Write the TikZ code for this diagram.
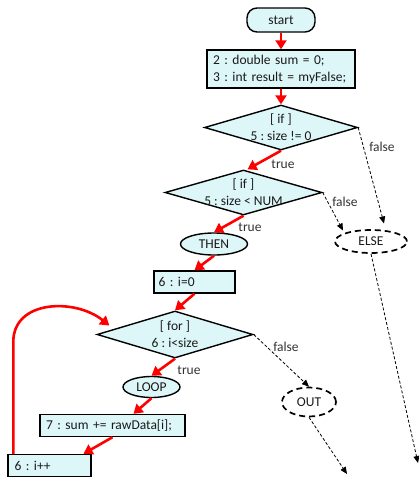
\documentclass[tikz,border=0pt]{standalone}
\usepackage{fontspec}
\setmainfont{Carlito}
\usetikzlibrary{shapes.geometric,arrows.meta,calc}
\definecolor{fillc}{HTML}{DDF6F8}
\definecolor{txtc}{HTML}{1A1A1A}
\frenchspacing
\begin{document}
\begin{tikzpicture}[x=1pt,y=-1pt,
  every node/.style={font=\fontsize{13.5}{17}\selectfont, text=txtc},
  boxn/.style={draw=black, line width=1.4pt, fill=fillc, inner sep=0pt, minimum height=22pt},
  termn/.style={draw=black, line width=1.4pt, fill=fillc, rounded corners=10pt, inner sep=0pt},
  ovaln/.style={ellipse, draw=black, line width=1.4pt, fill=fillc, inner sep=0pt},
  dovaln/.style={ellipse, draw=black, line width=1.7pt, dash pattern=on 6pt off 4pt, inner sep=0pt},
  decn/.style={diamond, draw=black, line width=1.4pt, fill=fillc, inner sep=0pt, aspect=3},
  redarr/.style={draw=red, line width=2.6pt, -{Triangle[width=11pt,length=9pt]}},
  dasharr/.style={draw=black, line width=0.8pt, dash pattern=on 3pt off 2pt, -{Triangle[width=6pt,length=7pt]}},
  lbl/.style={inner sep=0pt, text=black!80}
]
\useasboundingbox (0,0) rectangle (419,477);

% nodes
\node[termn, minimum width=68pt, minimum height=24pt] (start) at (281,20) {start};
\node[boxn, minimum width=148pt, minimum height=38pt, text width=136pt, align=left] (b1) at (281,69)
  {2 : double sum = 0;\\3 : int result = myFalse;};
\node[decn, minimum width=153pt, minimum height=45pt] (d1) at (281,127.5) {};
\node[inner sep=0pt, align=center] (t1) at (d1.center) {[ if ]\\5 : size != 0};
\node[decn, minimum width=157pt, minimum height=45pt] (d2) at (243.5,192.5) {};
\node[inner sep=0pt, align=center] (t2) at (d2.center) {[ if ]\\5 : size < NUM};
\node[ovaln, minimum width=67pt, minimum height=22pt] (then) at (214,244) {THEN};
\node[boxn, minimum width=81pt, text width=72pt, align=left] (b0) at (194.5,282) {6 : i=0};
\node[decn, minimum width=156pt, minimum height=47pt] (d3) at (175,334.5) {};
\node[inner sep=0pt, align=center] (t3) at (d3.center) {[ for ]\\6 : i<size};
\node[ovaln, minimum width=57pt, minimum height=21pt] (loop) at (151.5,387) {LOOP};
\node[boxn, minimum width=145pt, text width=133pt, align=left] (b7) at (112.5,425.5) {7 : sum += rawData[i];};
\node[boxn, minimum width=83pt, text width=70pt, align=left] (bpp) at (49.5,465.5) {6 : i++};
\node[dovaln, minimum width=72pt, minimum height=23pt] (else) at (371,241.5) {ELSE};
\node[dovaln, minimum width=54pt, minimum height=29pt] (out) at (309,402) {OUT};

\coordinate (endA) at (418,463);
\coordinate (endB) at (347,474);

% red flow
\draw[redarr] (start.south) -- (b1.north);
\draw[redarr] (b1.south) -- (d1.north);
\draw[redarr] (d1.south) -- ([xshift=4pt]d2.north);
\draw[redarr] (d2.south) -- (then.north);
\draw[redarr] (then.south) -- (b0.north);
\draw[redarr] (b0.south) -- (d3.north);
\draw[redarr] (d3.south) -- (loop.north);
\draw[redarr] (loop.south) -- ([xshift=21pt]b7.north);
\draw[redarr] (b7.south) -- ([xshift=34pt]bpp.north);
\draw[redarr] ([xshift=6pt]bpp.north west) -- ++(0,-112)
  .. controls +(0,-42) and (75,298) .. ([shift={(13pt,9pt)}]d3.west);

% dashed flow
\draw[dasharr] (d1.east) -- ([shift={(13pt,18pt)}]else.center);
\draw[dasharr] (d2.east) -- ([shift={(-28pt,11pt)}]else.center);
\draw[dasharr] (d3.east) -- (out.north);
\draw[dasharr] (else.south) -- (endA);
\draw[dasharr] (out.south) -- (endB);

% labels
\node[lbl] (l1) at (283,164) {true};
\node[lbl] (l2) at (250,227) {true};
\node[lbl] (l3) at (189,370) {true};
\node[lbl] (f1) at (382,147) {false};
\node[lbl] (f2) at (345,202) {false};
\node[lbl] (f3) at (286,347) {false};
\end{tikzpicture}
\end{document}
